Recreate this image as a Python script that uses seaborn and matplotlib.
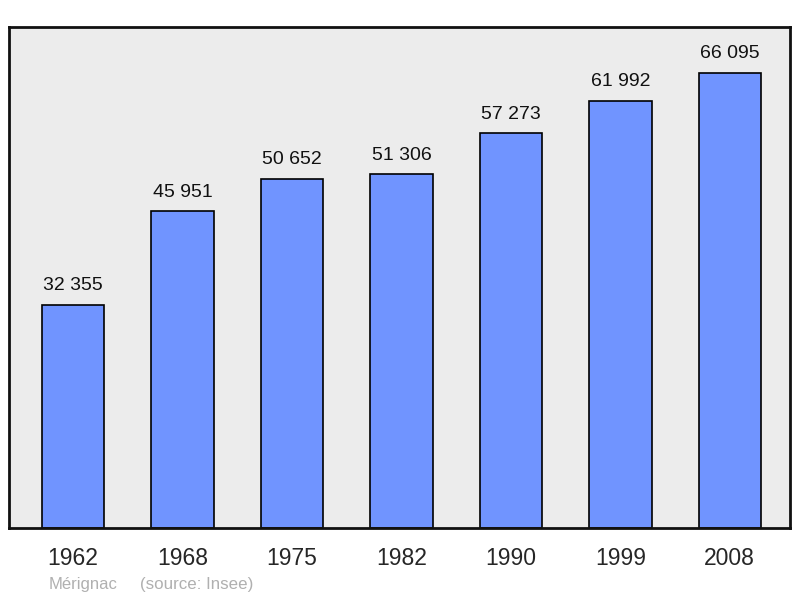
import matplotlib
matplotlib.use("Agg")
import matplotlib.pyplot as plt
import seaborn as sns
import pandas as pd

annees = ["1962", "1968", "1975", "1982", "1990", "1999", "2008"]
population = [32355, 45951, 50652, 51306, 57273, 61992, 66095]
etiquettes = ["32 355", "45 951", "50 652", "51 306", "57 273", "61 992", "66 095"]

sns.set_style("white")
plt.rcParams['font.family'] = ['Liberation Sans', 'DejaVu Sans']

df = pd.DataFrame({"annee": annees, "population": population})

fig = plt.figure(figsize=(8, 5.98), dpi=100)
ax = fig.add_axes([9 / 800, 1 - 528 / 598, 781 / 800, 501 / 598])
ax.set_facecolor("#ececec")

sns.barplot(data=df, x="annee", y="population", color="#7094ff", saturation=1,
            width=0.57, edgecolor="black", linewidth=1.2, ax=ax)

# etiquettes au-dessus des barres
for i, (v, txt) in enumerate(zip(population, etiquettes)):
    ax.annotate(txt, (i, v), xytext=(0, 10.5), textcoords="offset points",
                ha="center", va="baseline", fontsize=14, color="#111111")

ax.set_xlim(-0.585, 6.55)
ax.set_ylim(0, 72700)
ax.set_yticks([])
ax.set_xlabel("")
ax.set_ylabel("")
ax.tick_params(axis="x", length=0, pad=14, labelsize=16.5)
for s in ax.spines.values():
    s.set_visible(True)
    s.set_color("#111111")
    s.set_linewidth(2)

fig.text(49 / 800, 1 - 584 / 598, "Mérignac", color="#b0b0b0", fontsize=12, va="center")
fig.text(140 / 800, 1 - 584 / 598, "(source: Insee)", color="#b0b0b0", fontsize=12.2, va="center")

fig.savefig("out.png", dpi=100)
